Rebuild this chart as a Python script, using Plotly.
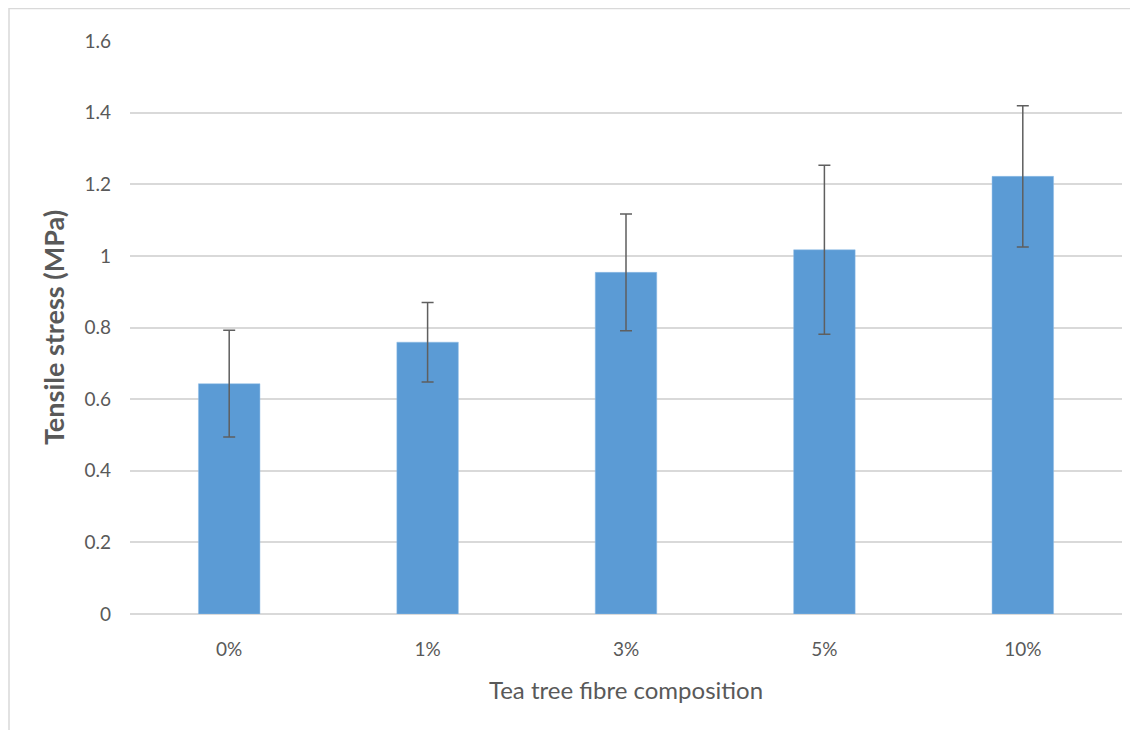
import plotly.graph_objects as go

categories = ["0%", "1%", "3%", "5%", "10%"]
stress = [0.643, 0.759, 0.954, 1.017, 1.222]
errors = [0.149, 0.111, 0.163, 0.236, 0.197]
y_ticks = [0, 0.2, 0.4, 0.6, 0.8, 1.0, 1.2, 1.4, 1.6]
y_tick_labels = ["0", "0.2", "0.4", "0.6", "0.8", "1", "1.2", "1.4", "1.6"]

# page has an 8px body margin; figure sized to fit inside the window
W, H = 1122, 722
ml, mr, mt, mb = 122, 8, 33, 116
pw, ph = W - ml - mr, H - mt - mb

fig = go.Figure()
fig.add_trace(go.Bar(
    x=categories, y=stress,
    marker=dict(color="#5B9BD5", line=dict(color="#8FBCE6", width=0.5)),
    error_y=dict(type="data", array=errors, visible=True,
                 color="#5f5f5f", thickness=1.5, width=6),
    showlegend=False,
))

font_family = "Lato, 'Open Sans', sans-serif"
fig.update_layout(
    width=W, height=H,
    margin=dict(l=ml, r=mr, t=mt, b=mb),
    paper_bgcolor="white", plot_bgcolor="white",
    bargap=0.69,
    font=dict(family=font_family, color="#595959", size=19),
    xaxis=dict(
        showgrid=False, showline=False, zeroline=False,
        ticks="", ticklabelstandoff=22,
        tickfont=dict(size=19, color="#595959"),
        title=dict(text="Tea tree fibre composition",
                   font=dict(size=24, color="#595959"), standoff=23),
    ),
    yaxis=dict(
        range=[0, 1.6], tickvals=y_ticks, ticktext=y_tick_labels,
        showgrid=True, gridcolor="#d9d9d9", gridwidth=1.5,
        zeroline=True, zerolinecolor="#d9d9d9", zerolinewidth=1.5,
        showline=False, ticks="", ticklabelstandoff=18,
        tickfont=dict(size=19, color="#595959"),
        title=dict(text="<b>Tensile stress (MPa)</b>",
                   font=dict(size=27, color="#595959"), standoff=12),
    ),
    shapes=[dict(
        type="rect", xref="paper", yref="paper",
        x0=(1 - ml) / pw, x1=1.2, y0=-0.5, y1=(H - mb - 0.5) / ph,
        line=dict(color="#d9d9d9", width=1.5), fillcolor="rgba(0,0,0,0)",
        layer="below",
    )],
)

fig.write_html("out.html")
